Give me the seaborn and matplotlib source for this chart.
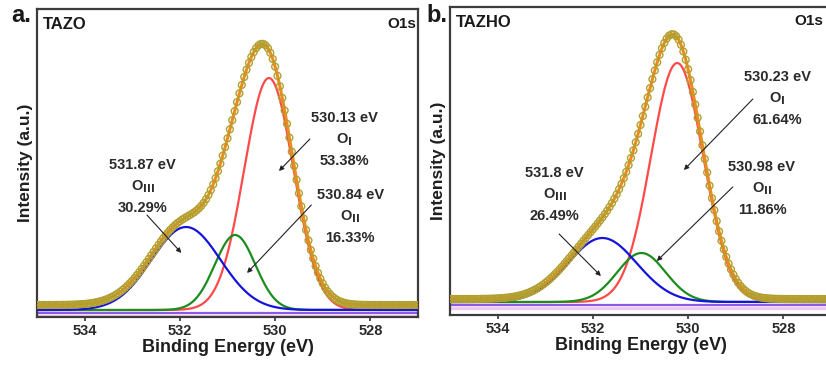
import numpy as np
import pandas as pd
import matplotlib
matplotlib.use("Agg")
import matplotlib.pyplot as plt
import seaborn as sns

# peak fit parameters (centre eV, height, FWHM eV)
names = ["OI", "OII", "OIII"]
centers_a = [530.13, 530.84, 531.87]
heights_a = [232, 75, 83]
fwhm_a = [1.22, 1.0, 1.7]
offset_a = 5

centers_b = [530.23, 530.98, 531.8]
heights_b = [239, 49, 64]
fwhm_b = [1.3, 1.2, 1.7]
offset_b = 3

shares_a = ["53.38%", "16.33%", "30.29%"]
shares_b = ["61.64%", "11.86%", "26.49%"]
labels_a = ["530.13 eV", "530.84 eV", "531.87 eV"]
labels_b = ["530.23 eV", "530.98 eV", "531.8 eV"]
subs = [r"O$_\mathbf{I}$", r"O$_\mathbf{II}$", r"O$_\mathbf{III}$"]
ticks = [534, 532, 530, 528]

comp_colors = ["#ff4a4a", "#1c8c1c", "#1414dc"]

sns.set_style("white")
plt.rcParams["font.family"] = ["Liberation Sans", "DejaVu Sans"]
plt.rcParams["font.weight"] = "bold"
plt.rcParams["mathtext.default"] = "bf"

fig = plt.figure(figsize=(8.26, 3.67), dpi=100)
ax_a = fig.add_axes([37 / 826, 1 - 317 / 367, 381 / 826, 308 / 367])
ax_b = fig.add_axes([450 / 826, 1 - 315 / 367, 381 / 826, 308 / 367])


def gauss(x, c, h, w):
    s = w / 2.3548
    return h * np.exp(-(x - c) ** 2 / (2 * s * s))


def panel(ax, centers, heights, fwhm, offset, ylim, texts, arrows):
    e = np.arange(527.0, 535.001, 0.01)
    e_pts = np.arange(527.0, 535.001, 0.05)
    total = np.zeros_like(e) + offset
    total_pts = np.zeros_like(e_pts) + offset
    ax.axhline(-6, color="#f0c8f0", lw=2.5, zorder=1)
    ax.axhline(-2.5, color="#8a5ae6", lw=1.6, zorder=2)
    for c, h, w, col in zip(centers, heights, fwhm, comp_colors):
        y = gauss(e, c, h, w)
        total += y
        total_pts += gauss(e_pts, c, h, w)
        sns.lineplot(x=e, y=y, ax=ax, color=col, lw=1.6, zorder=3)
    sns.lineplot(x=e, y=total, ax=ax, color="#ee8a1e", lw=2.2, zorder=4)
    sns.scatterplot(x=e_pts, y=total_pts, ax=ax, marker="o", s=24,
                    facecolors="none", edgecolors="#b0a030", linewidth=1.0,
                    zorder=5)
    ax.set_xlim(535, 527)
    ax.set_ylim(*ylim)
    ax.set_yticks([])
    ax.set_xticks(ticks)
    ax.set_xticklabels([str(t) for t in ticks], fontsize=10.5, fontweight="bold")
    ax.tick_params(axis="x", direction="out", length=3, width=1.2,
                   color="#333333", pad=2, bottom=True, labelcolor="#2a2a2a")
    for sp in ax.spines.values():
        sp.set_color("#3c3c3c")
        sp.set_linewidth(1.6)
    ax.set_xlabel("Binding Energy (eV)", fontsize=13, fontweight="bold",
                  labelpad=1, color="#1e1e1e")
    ax.set_ylabel("Intensity (a.u.)", fontsize=12.5, fontweight="bold",
                  labelpad=3, color="#1e1e1e")
    for (x, y0, lines) in texts:
        for k, t in enumerate(lines):
            ax.text(x, y0 - k * 21.5, t, ha="center", va="center",
                    fontsize=10.5, fontweight="bold", color="#2a2a2a",
                    zorder=6)
    for (x0, y0, x1, y1) in arrows:
        ax.annotate("", xy=(x1, y1), xytext=(x0, y0),
                    arrowprops=dict(arrowstyle="-|>", color="#222222",
                                    lw=0.8, mutation_scale=7),
                    zorder=6)


texts_a = [
    (528.55, 192, [labels_a[0], subs[0], shares_a[0]]),
    (528.42, 115, [labels_a[1], subs[1], shares_a[1]]),
    (532.78, 145, [labels_a[2], subs[2], shares_a[2]]),
]
arrows_a = [
    (529.23, 173, 529.96, 137),
    (529.20, 107, 530.63, 35),
    (532.73, 97, 531.93, 55),
]
texts_b = [
    (528.13, 225, [labels_b[0], subs[0], shares_b[0]]),
    (528.45, 135, [labels_b[1], subs[1], shares_b[1]]),
    (532.80, 129, [labels_b[2], subs[2], shares_b[2]]),
]
arrows_b = [
    (528.60, 205, 530.13, 130),
    (529.02, 117, 530.70, 39),
    (532.75, 70, 531.79, 24),
]

panel(ax_a, centers_a, heights_a, fwhm_a, offset_a, (-7, 301), texts_a, arrows_a)
panel(ax_b, centers_b, heights_b, fwhm_b, offset_b, (-13, 295), texts_b, arrows_b)

ax_a.text(0.015, 0.975, "TAZO", transform=ax_a.transAxes, ha="left", va="top",
          fontsize=12, fontweight="bold", color="#1a1a1a")
ax_a.text(0.995, 0.975, "O1s", transform=ax_a.transAxes, ha="right", va="top",
          fontsize=11, fontweight="bold", color="#1a1a1a")
ax_b.text(0.015, 0.975, "TAZHO", transform=ax_b.transAxes, ha="left", va="top",
          fontsize=12, fontweight="bold", color="#1a1a1a")
fig.text(823 / 826, 1 - 14 / 367, "O1s", ha="right", va="top",
         fontsize=11, fontweight="bold", color="#1a1a1a")

fig.text(11 / 826, 1 - 22 / 367, "a.", fontsize=17, fontweight="bold",
         ha="left", va="baseline", color="#1a1a1a")
fig.text(426 / 826, 1 - 22 / 367, "b.", fontsize=17, fontweight="bold",
         ha="left", va="baseline", color="#1a1a1a")

fig.savefig("out.png", dpi=100)
